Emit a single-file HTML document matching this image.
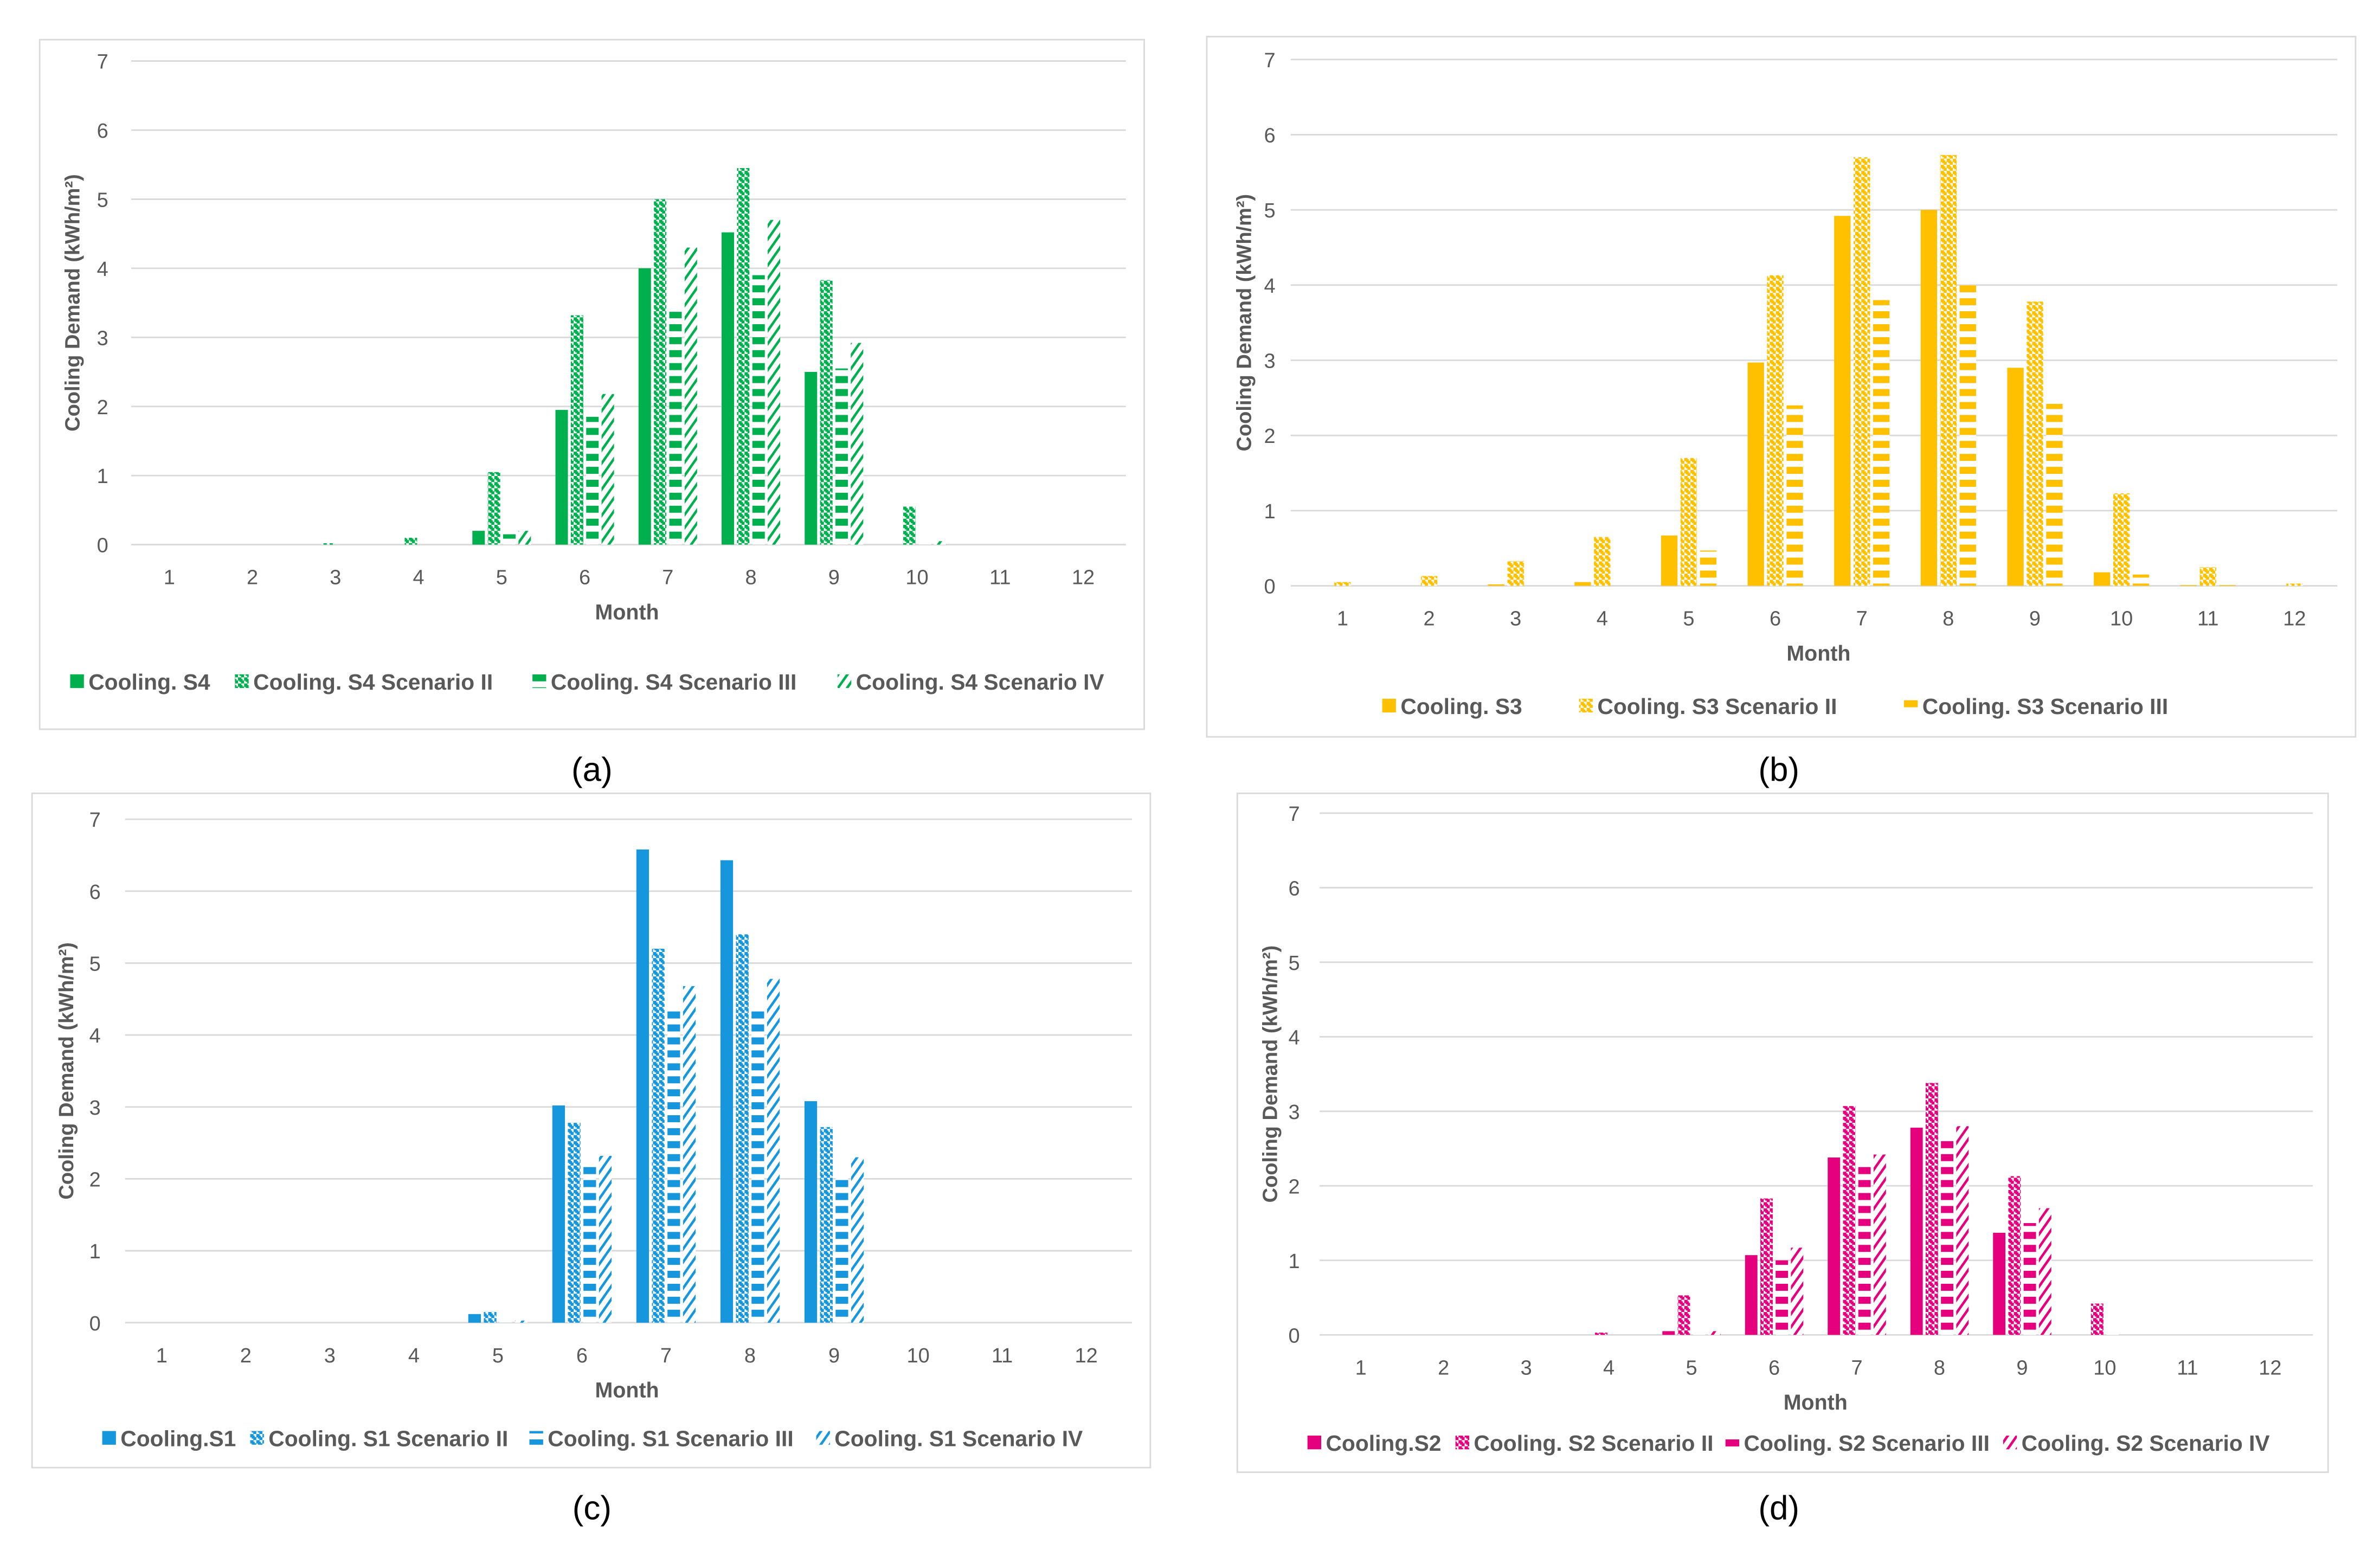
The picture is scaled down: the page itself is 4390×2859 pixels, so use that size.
<!DOCTYPE html>
<html><head><meta charset="utf-8">
<style>
html,body{margin:0;padding:0;background:#fff;}
svg{display:block;}
text{font-family:"Liberation Sans",sans-serif;}
</style></head>
<body>
<svg id="fig" width="4390" height="2859" viewBox="0 0 1560 1016" preserveAspectRatio="none" xmlns="http://www.w3.org/2000/svg">
<defs id="defs"></defs>
</svg>
<script>
// ---- data ----
const months = [1,2,3,4,5,6,7,8,9,10,11,12];
const yTicks = [0,1,2,3,4,5,6,7];

const aS4   = [0,0,0,0,0.2,1.95,4.0,4.52,2.5,0,0,0];
const aII   = [0,0,0.02,0.1,1.05,3.32,5.0,5.45,3.83,0.55,0,0];
const aIII  = [0,0,0,0,0.15,1.85,3.37,3.9,2.55,0.02,0,0];
const aIV   = [0,0,0,0,0.2,2.18,4.3,4.7,2.92,0.05,0,0];
const aLabels = ["Cooling. S4","Cooling. S4 Scenario  II","Cooling. S4 Scenario  III","Cooling. S4 Scenario  IV"];

const bS3   = [0,0,0.02,0.05,0.67,2.97,4.92,5.0,2.9,0.18,0.01,0];
const bII   = [0.05,0.13,0.33,0.65,1.7,4.13,5.7,5.73,3.78,1.23,0.25,0.03];
const bIII  = [0,0,0,0,0.47,2.4,3.8,4.0,2.42,0.15,0.01,0];
const bLabels = ["Cooling. S3","Cooling. S3 Scenario II","Cooling. S3 Scenario III"];

const cS1   = [0,0,0,0,0.12,3.02,6.58,6.43,3.08,0,0,0];
const cII   = [0,0,0,0,0.15,2.78,5.2,5.4,2.72,0,0,0];
const cIII  = [0,0,0,0,0.05,2.2,4.35,4.4,2.05,0,0,0];
const cIV   = [0,0,0,0,0.03,2.32,4.68,4.78,2.3,0,0,0];
const cLabels = ["Cooling.S1","Cooling. S1 Scenario II","Cooling. S1 Scenario III","Cooling. S1 Scenario IV"];

const dS2   = [0,0,0,0,0.05,1.07,2.38,2.78,1.37,0,0,0];
const dII   = [0,0,0,0.03,0.53,1.83,3.07,3.38,2.13,0.42,0,0];
const dIII  = [0,0,0,0,0.02,1.0,2.28,2.65,1.5,0.02,0,0];
const dIV   = [0,0,0,0,0.05,1.17,2.42,2.8,1.7,0,0,0];
const dLabels = ["Cooling.S2","Cooling. S2 Scenario II","Cooling. S2 Scenario III","Cooling. S2 Scenario IV"];

// ---- layout ----
const NS = "http://www.w3.org/2000/svg";
const svg = document.getElementById('fig');
const defs = document.getElementById('defs');
function mk(tag, attrs, parent){
  const e = document.createElementNS(NS, tag);
  for (const k in attrs) e.setAttribute(k, attrs[k]);
  (parent||svg).appendChild(e);
  return e;
}
function makePatterns(key, color){
  let p = mk('pattern',{id:key+'-solid',width:4,height:4,patternUnits:'userSpaceOnUse'},defs);
  mk('rect',{width:4,height:4,fill:color},p);
  p = mk('pattern',{id:key+'-check',width:4,height:4,patternUnits:'userSpaceOnUse'},defs);
  mk('rect',{width:4,height:4,fill:'#fff'},p);
  mk('rect',{x:0,y:0,width:2.2,height:2.2,fill:color},p);
  mk('rect',{x:2,y:2,width:2.2,height:2.2,fill:color},p);
  mk('rect',{x:1,y:1,width:2,height:2,fill:color},p);
  p = mk('pattern',{id:key+'-stripe',width:8,height:8.5,patternUnits:'userSpaceOnUse'},defs);
  mk('rect',{width:8,height:8.5,fill:'#fff'},p);
  mk('rect',{x:0,y:0,width:8,height:4.6,fill:color},p);
  p = mk('pattern',{id:key+'-diag',width:6,height:8.5,patternUnits:'userSpaceOnUse',patternTransform:'skewX(-35)'},defs);
  mk('rect',{width:6,height:8.5,fill:'#fff'},p);
  mk('rect',{x:0,y:0,width:6,height:5,fill:color},p);
  mk('rect',{x:2,y:0,width:4,height:8.5,fill:'#fff'},p);
  mk('rect',{x:0,y:0,width:2,height:8.5,fill:color},p);
}

function panel(cfg){
  const g = mk('g',{});
  
  
  const frame = mk('rect',{x:cfg.box[0],y:cfg.box[1],width:cfg.box[2]-cfg.box[0],height:cfg.box[3]-cfg.box[1],fill:'#fff',stroke:'#d9d9d9','stroke-width':1},g);
  
  
  const yScale = v => cfg.y0 - (cfg.y0 - cfg.y7) * v / 7;
  const xScale = m => cfg.x1 + (cfg.x12 - cfg.x1) * (m - 1) / 11;
  const sp = (cfg.x12 - cfg.x1) / 11;
  yTicks.forEach(t=>{
    const ln = mk('line',{x1:cfg.gx0,x2:cfg.gx1,y1:yScale(t),y2:yScale(t),stroke:'#d9d9d9','stroke-width':1},g);
    
    
    const tx = mk('text',{x:cfg.ylx,y:yScale(t)+5,'font-size':13.5,fill:'#595959','text-anchor':'end'},g);
    tx.textContent = t;
    
    
  });
  months.forEach(m=>{
    const tx = mk('text',{x:xScale(m),y:cfg.y0+26,'font-size':13.5,fill:'#595959','text-anchor':'middle'},g);
    tx.textContent = m;
    
    
  });
  const n = cfg.series.length;
  const bw = sp * cfg.bf, gap = sp * 0.035;
  const total = n*bw + (n-1)*gap;
  cfg.series.forEach((s, si)=>{
    s.forEach((v, i)=>{
      if (v <= 0) return;
      const x = xScale(months[i]) - total/2 + si*(bw+gap);
      const r = mk('rect',{x:x,y:yScale(v),width:bw,height:cfg.y0-yScale(v),fill:'url(#'+cfg.key+'-'+cfg.pats[si]+')'},g);
      
      
    });
  });
  const xt = mk('text',{x:cfg.monthX,y:cfg.y0+49,'font-size':14,'font-weight':'bold',fill:'#595959','text-anchor':'middle'},g);
  xt.textContent = 'Month';
  
  
  const cy = (cfg.y0 + cfg.y7)/2;
  const yt = mk('text',{x:cfg.ytx,y:cy,'font-size':13.5,'font-weight':'bold',fill:'#595959','text-anchor':'middle',transform:'rotate(-90 '+cfg.ytx+' '+cy+')'},g);
  yt.textContent = 'Cooling Demand (kWh/m²)';
  
  
  cfg.labels.forEach((lb, li)=>{
    const lx = cfg.legX[li];
    const lg = mk('g',{},g);
    
    
    mk('rect',{x:lx,y:cfg.legY-10,width:9,height:9,fill:'url(#'+cfg.key+'-'+cfg.pats[li]+')'},lg);
    const t = mk('text',{x:lx+12,y:cfg.legY,'font-size':14.5,'font-weight':'bold',fill:'#595959'},lg);
    t.textContent = lb;
  });
  const cap = mk('text',{x:cfg.capX,y:cfg.capY,'font-size':22,fill:'#000','text-anchor':'middle','font-family':'Liberation Serif, serif'},g);
  cap.textContent = cfg.cap;
  
  
}

makePatterns('a','#00b04f');
makePatterns('b','#ffc000');
makePatterns('c','#1696dc');
makePatterns('d','#e5007d');

panel({name:'chart-a',key:'a',box:[26,26,750,478],y0:357,y7:40,x1:111,x12:710,gx0:86,gx1:738,ylx:71,ytx:52,
  series:[aS4,aII,aIII,aIV],pats:['solid','check','stripe','diag'],bf:0.15,labels:aLabels,
  legX:[46,154,349,549],legY:452,monthX:411,capX:388,capY:512,cap:'(a)'});
panel({name:'chart-b',key:'b',box:[791,24,1544,483],y0:384,y7:39,x1:880,x12:1504,gx0:846,gx1:1532,ylx:836,ytx:820,
  series:[bS3,bII,bIII],pats:['solid','check','stripe'],bf:0.19,labels:bLabels,
  legX:[906,1035,1248],legY:468,monthX:1192,capX:1166,capY:512,cap:'(b)'});
panel({name:'chart-c',key:'c',box:[21,520,754,962],y0:867,y7:537,x1:106,x12:712,gx0:82,gx1:742,ylx:66,ytx:48,
  series:[cS1,cII,cIII,cIV],pats:['solid','check','stripe','diag'],bf:0.15,labels:cLabels,
  legX:[67,164,347,535],legY:948,monthX:411,capX:388,capY:996,cap:'(c)'});
panel({name:'chart-d',key:'d',box:[811,520,1526,965],y0:875,y7:533,x1:892,x12:1488,gx0:865,gx1:1516,ylx:852,ytx:837,
  series:[dS2,dII,dIII,dIV],pats:['solid','check','stripe','diag'],bf:0.15,labels:dLabels,
  legX:[857,954,1131,1313],legY:951,monthX:1190,capX:1166,capY:996,cap:'(d)'});
</script>
</body></html>
